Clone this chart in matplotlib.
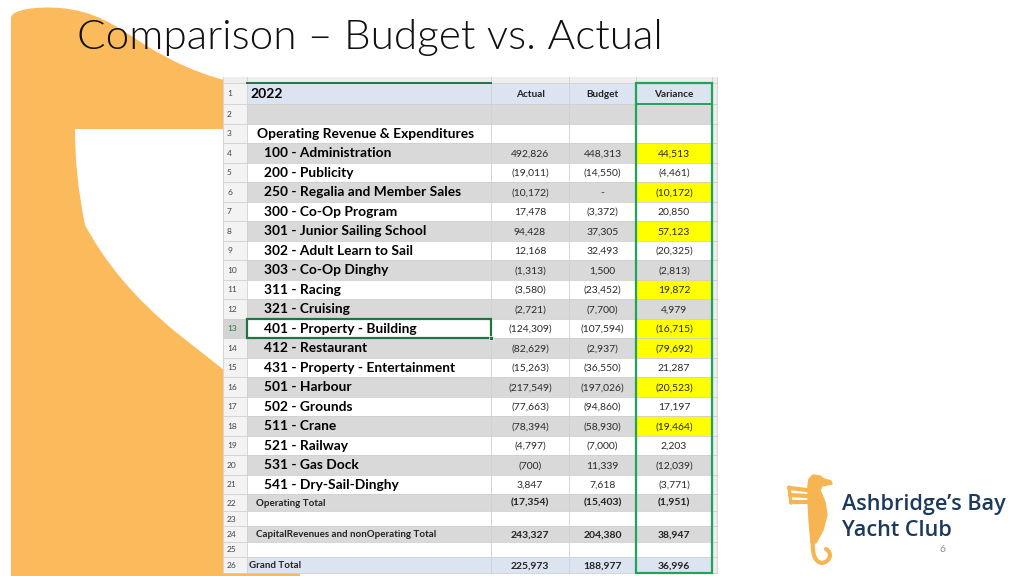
import matplotlib
matplotlib.use("Agg")
import matplotlib.pyplot as plt
from matplotlib.patches import Rectangle, PathPatch, Polygon
from matplotlib.path import Path

# ---------------- data ----------------
title = "Comparison \u2013 Budget vs. Actual"
year = "2022"
col_headers = ["Actual", "Budget", "Variance"]
section = "Operating Revenue & Expenditures"
depts = ["100 - Administration", "200 - Publicity", "250 - Regalia and Member Sales",
         "300 - Co-Op Program", "301 - Junior Sailing School", "302 - Adult Learn to Sail",
         "303 - Co-Op Dinghy", "311 - Racing", "321 - Cruising", "401 - Property - Building",
         "412 - Restaurant", "431 - Property - Entertainment", "501 - Harbour",
         "502 - Grounds", "511 - Crane", "521 - Railway", "531 - Gas Dock",
         "541 - Dry-Sail-Dinghy"]
actual = [492826, -19011, -10172, 17478, 94428, 12168, -1313, -3580, -2721, -124309,
          -82629, -15263, -217549, -77663, -78394, -4797, -700, 3847]
budget = [448313, -14550, 0, -3372, 37305, 32493, 1500, -23452, -7700, -107594,
          -2937, -36550, -197026, -94860, -58930, -7000, 11339, 7618]
variance = [44513, -4461, -10172, 20850, 57123, -20325, -2813, 19872, 4979, -16715,
            -79692, 21287, -20523, 17197, -19464, 2203, -12039, -3771]
highlight_codes = ["100", "250", "301", "311", "401", "412", "501", "511"]
total_labels = ["Operating Total", "CapitalRevenues and nonOperating Total", "Grand Total"]
total_actual = [-17354, 243327, 225973]
total_budget = [-15403, 204380, 188977]
total_variance = [-1951, 38947, 36996]
logo_lines = ["Ashbridge\u2019s Bay", "Yacht Club"]
page_number = "6"


def fmt(v):
    if v == 0:
        return "-"
    s = f"{abs(v):,}"
    return f"({s})" if v < 0 else s


# ---------------- figure ----------------
fig = plt.figure(figsize=(10.24, 5.76), dpi=100)
ax = fig.add_axes([0, 0, 1, 1])
ax.set_xlim(0, 1024)
ax.set_ylim(576, 0)
ax.axis("off")

ORANGE = "#FBBA5C"
FONT = "Lato"

# orange decorative shape
outer = Path(
    [(11, 576), (11, 18), (11, 10), (35, 6), (60, 8), (95, 11), (115, 25), (145, 45),
     (175, 63), (200, 75), (240, 84), (300, 92), (300, 576), (11, 576)],
    [Path.MOVETO, Path.LINETO, Path.CURVE4, Path.CURVE4, Path.CURVE4, Path.CURVE4,
     Path.CURVE4, Path.CURVE4, Path.CURVE4, Path.CURVE4, Path.CURVE4, Path.LINETO,
     Path.LINETO, Path.CLOSEPOLY])
ax.add_patch(PathPatch(outer, fc=ORANGE, ec="none", zorder=1))
inner = Path(
    [(75, 129), (300, 129), (300, 430), (177, 333), (133, 297), (105, 262), (85, 225),
     (78, 190), (75, 160), (75, 129)],
    [Path.MOVETO, Path.LINETO, Path.LINETO, Path.LINETO, Path.CURVE4, Path.CURVE4,
     Path.CURVE4, Path.CURVE4, Path.CURVE4, Path.CLOSEPOLY])
ax.add_patch(PathPatch(inner, fc="white", ec="none", zorder=2))

# title
ax.text(77, 49, title, fontsize=30.4, family=FONT, fontweight=300, color="#111111",
        ha="left", va="baseline", zorder=5)

# ---------------- table ----------------
x_rn, x_lab, x_act, x_bud, x_var, x_end, x_right = 223, 247, 491, 569, 636, 712, 717
row_heights = [21] + [19.5] * 20 + [17, 15, 16, 15, 16]
tops = [83]
for h in row_heights:
    tops.append(tops[-1] + h)
n_rows = len(row_heights)

GRAY = "#D9D9D9"
BLUE = "#DCE4F1"
GRID = "#D0D0D0"
YELLOW = "#FFFF00"
GREEN = "#22A35A"

ax.add_patch(Rectangle((x_rn, 77), x_right - x_rn, tops[-1] - 77, fc="white", ec="none", zorder=3))
ax.add_patch(Rectangle((x_rn, 77), x_right - x_rn, 6, fc="#EEEEEE", ec="none", zorder=3))
ax.plot([x_lab, x_act], [83, 83], color="#217346", lw=1.4, zorder=6)

gray_rows = {2, 4, 6, 8, 10, 12, 14, 16, 18, 20, 22, 24}
for r in range(1, n_rows + 1):
    y0, h = tops[r - 1], row_heights[r - 1]
    if r in (1, 26):
        fc = BLUE
    elif r in gray_rows:
        fc = GRAY
    else:
        fc = "white"
    ax.add_patch(Rectangle((x_lab, y0), x_end - x_lab, h, fc=fc, ec="none", zorder=3))
    ax.add_patch(Rectangle((x_rn, y0), x_lab - x_rn, h,
                           fc="#D4D4D4" if r == 13 else "#F3F3F3", ec="none", zorder=3))
    ax.text(x_rn + 4, y0 + h / 2 + 0.5, str(r), fontsize=6, family=FONT,
            color="#217346" if r == 13 else "#444444", ha="left", va="center", zorder=6)

ax.add_patch(Rectangle((x_end, 77), x_right - x_end, tops[-1] - 77, fc="#ECECEC", ec="none", zorder=3))

for i, d in enumerate(depts):
    if d.split(" ")[0] in highlight_codes:
        r = 4 + i
        ax.add_patch(Rectangle((x_var, tops[r - 1]), x_end - x_var, row_heights[r - 1],
                               fc=YELLOW, ec="none", zorder=4))

for y in tops:
    ax.plot([x_rn, x_right], [y, y], color=GRID, lw=0.6, zorder=5)
for x in (x_rn, x_lab, x_act, x_bud, x_var, x_end, x_right):
    ax.plot([x, x], [77, tops[-1]], color=GRID, lw=0.6, zorder=5)

ax.add_patch(Rectangle((x_var, tops[0]), x_end - x_var, tops[-1] - tops[0], fc="none",
                       ec=GREEN, lw=1.6, zorder=7))
ax.plot([x_var, x_end], [tops[1], tops[1]], color=GREEN, lw=1.4, zorder=7)

ax.add_patch(Rectangle((x_lab, tops[12]), x_act - x_lab, row_heights[12], fc="none",
                       ec="#217346", lw=1.6, zorder=7))
ax.add_patch(Rectangle((x_act - 2, tops[13] - 2), 4, 4, fc="#217346", ec="white", lw=0.5, zorder=8))

centers = [(x_act + x_bud) / 2, (x_bud + x_var) / 2, (x_var + x_end) / 2]


def ymid(r):
    return tops[r - 1] + row_heights[r - 1] / 2 + 0.5


ax.text(250, ymid(1), year, fontsize=10, family=FONT, fontweight="bold", ha="left",
        va="center", zorder=6)
for cx, hdr in zip(centers, col_headers):
    ax.text(cx, ymid(1) + 0.5, hdr, fontsize=7.2, family=FONT, fontweight="bold",
            ha="center", va="center", color="#222222", zorder=8)

ax.text(257, ymid(3), section, fontsize=9.9, family=FONT, fontweight="bold", ha="left",
        va="center", zorder=6)

NUMC = "#2A2A2A"
for i, d in enumerate(depts):
    r = 4 + i
    ax.text(264, ymid(r), d, fontsize=9.9, family=FONT, fontweight="bold", ha="left",
            va="center", zorder=8)
    for cx, v in zip(centers, (actual[i], budget[i], variance[i])):
        ax.text(cx, ymid(r) + 0.5, fmt(v), fontsize=7.5, family=FONT, color=NUMC,
                ha="center", va="center", zorder=8)

total_rows = [22, 24, 26]
total_x = [256, 256, 249]
for k, r in enumerate(total_rows):
    ax.text(total_x[k], ymid(r), total_labels[k], fontsize=7, family=FONT,
            fontweight="bold", ha="left", va="center", color="#222222", zorder=8)
    for cx, v in zip(centers, (total_actual[k], total_budget[k], total_variance[k])):
        ax.text(cx, ymid(r) + 0.3, fmt(v), fontsize=7.5, family=FONT, fontweight="bold",
                color="#222222", ha="center", va="center", zorder=8)

# ---------------- logo ----------------
SEA = "#F6B552"
body = [(809, 479), (813, 475), (820, 476), (824, 479), (831, 481), (832, 484), (822, 486),
        (820, 490), (825, 502), (827, 515), (823, 530), (816, 543), (811, 543), (809, 520),
        (808, 500), (808, 486)]
ax.add_patch(Polygon(body, closed=True, fc=SEA, ec=SEA, lw=1, joinstyle="round", zorder=6))
tail = Path([(813, 540), (812, 552), (814, 562), (822, 563), (830, 562), (833, 553),
             (826, 549)],
            [Path.MOVETO, Path.CURVE4, Path.CURVE4, Path.CURVE4, Path.CURVE4, Path.CURVE4,
             Path.CURVE4])
ax.add_patch(PathPatch(tail, fc="none", ec=SEA, lw=3, capstyle="round", zorder=6))
for (xa, ya, xb, yb) in [(789, 488, 807, 490), (790, 495, 807, 496), (791, 502, 807, 502)]:
    ax.plot([xa, xb], [ya, yb], color=SEA, lw=3, solid_capstyle="round", zorder=6)
ax.plot([789, 791], [487, 503], color=SEA, lw=2.5, solid_capstyle="round", zorder=6)

NAVY = "#1D3A5C"
ax.text(842, 510, logo_lines[0], fontsize=15.6, family="Open Sans", fontweight="semibold",
        color=NAVY, ha="left", va="baseline", zorder=6)
ax.text(842, 536, logo_lines[1], fontsize=15.6, family="Open Sans", fontweight="semibold",
        color=NAVY, ha="left", va="baseline", zorder=6)
ax.text(942, 550, page_number, fontsize=7.5, family=FONT, color="#8C8C8C", ha="center",
        va="center", zorder=6)

fig.savefig("out.png", dpi=100)
